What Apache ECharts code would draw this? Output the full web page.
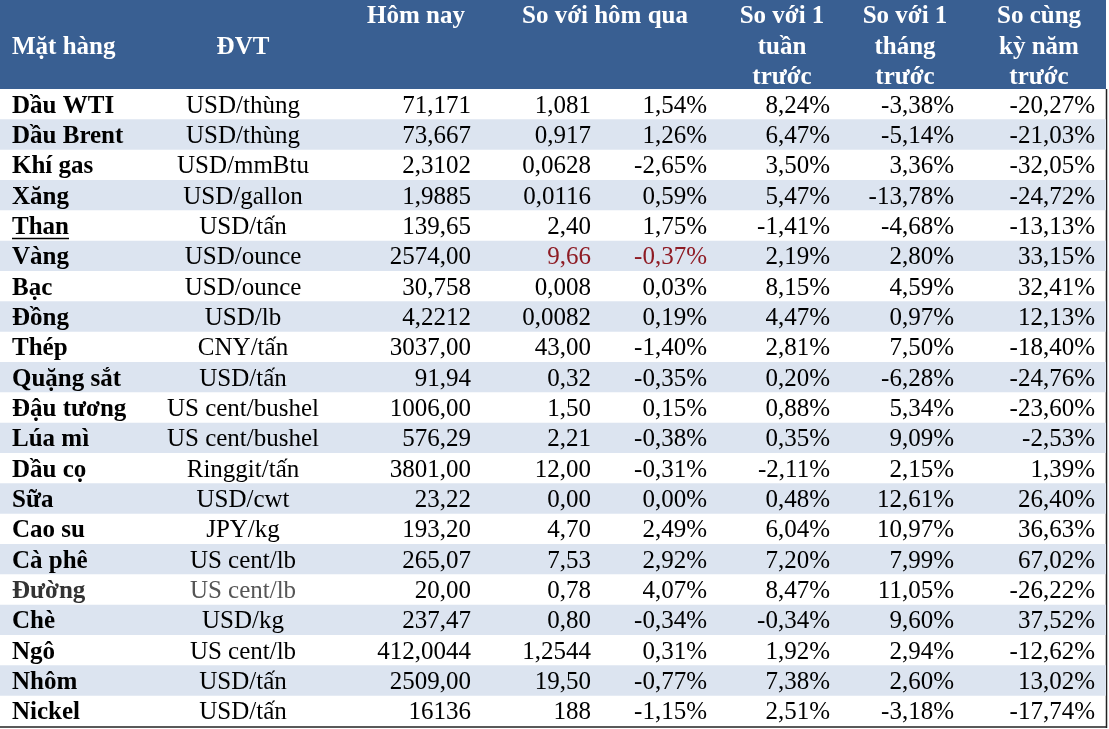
<!DOCTYPE html>
<html>
<head>
<meta charset="utf-8">
<script src="https://cdn.jsdelivr.net/npm/echarts@6/dist/echarts.min.js"></script>
<style>html,body{margin:0;padding:0;background:#fff}#c{width:1109px;height:729px}</style>
</head>
<body>
<div id="c"></div>
<script>
const names = ['Dầu WTI','Dầu Brent','Khí gas','Xăng','Than','Vàng','Bạc','Đồng','Thép','Quặng sắt','Đậu tương','Lúa mì','Dầu cọ','Sữa','Cao su','Cà phê','Đường','Chè','Ngô','Nhôm','Nickel'];
const units = ['USD/thùng','USD/thùng','USD/mmBtu','USD/gallon','USD/tấn','USD/ounce','USD/ounce','USD/lb','CNY/tấn','USD/tấn','US cent/bushel','US cent/bushel','Ringgit/tấn','USD/cwt','JPY/kg','US cent/lb','US cent/lb','USD/kg','US cent/lb','USD/tấn','USD/tấn'];
const today = ['71,171','73,667','2,3102','1,9885','139,65','2574,00','30,758','4,2212','3037,00','91,94','1006,00','576,29','3801,00','23,22','193,20','265,07','20,00','237,47','412,0044','2509,00','16136'];
const chgDay = ['1,081','0,917','0,0628','0,0116','2,40','9,66','0,008','0,0082','43,00','0,32','1,50','2,21','12,00','0,00','4,70','7,53','0,78','0,80','1,2544','19,50','188'];
const pctDay = [1.54,1.26,-2.65,0.59,1.75,-0.37,0.03,0.19,-1.40,-0.35,0.15,-0.38,-0.31,0.00,2.49,2.92,4.07,-0.34,0.31,-0.77,-1.15];
const pctWeek = [8.24,6.47,3.50,5.47,-1.41,2.19,8.15,4.47,2.81,0.20,0.88,0.35,-2.11,0.48,6.04,7.20,8.47,-0.34,1.92,7.38,2.51];
const pctMonth = [-3.38,-5.14,3.36,-13.78,-4.68,2.80,4.59,0.97,7.50,-6.28,5.34,9.09,2.15,12.61,10.97,7.99,11.05,9.60,2.94,2.60,-3.18];
const pctYear = [-20.27,-21.03,-32.05,-24.72,-13.13,33.15,32.41,12.13,-18.40,-24.76,-23.60,-2.53,1.39,26.40,36.63,67.02,-26.22,37.52,-12.62,13.02,-17.74];
const headers = [
  {lines:['Mặt hàng'], x:12, align:'left'},
  {lines:['ĐVT'], x:243, align:'center'},
  {lines:['Hôm nay'], x:416, align:'center', top:true},
  {lines:['So với hôm qua'], x:605, align:'center', top:true},
  {lines:['So với 1','tuần','trước'], x:782, align:'center', top:true},
  {lines:['So với 1','tháng','trước'], x:905, align:'center', top:true},
  {lines:['So cùng','kỳ năm','trước'], x:1039, align:'center', top:true}
];

const fmtPct = v => v.toFixed(2).replace('.', ',') + '%';
const SERIF = '"Liberation Serif","Times New Roman",serif';
const FONT_B = 'bold 25px ' + SERIF;
const FONT_R = '25px ' + SERIF;
const HEADER_BG = '#395F92';
const ROW_BG = '#DCE4F0';
const RED = '#8E1B24';

// header graphics
const headerEls = [{type:'rect', shape:{x:0,y:0,width:1106,height:89}, style:{fill:HEADER_BG}, silent:true}];
headers.forEach(h => {
  h.lines.forEach((t, k) => {
    const cy = h.top ? 17 + k * 30.5 : 48;
    headerEls.push({type:'text', x:h.x, y:cy, style:{text:t, font:FONT_B, fill:'#ffffff', align:h.align, verticalAlign:'middle'}, silent:true});
  });
});
headerEls.push({type:'line', shape:{x1:1106.5,y1:89,x2:1106.5,y2:728}, style:{stroke:'#222',lineWidth:1.5}, silent:true});
headerEls.push({type:'line', shape:{x1:0,y1:727,x2:1107,y2:727}, style:{stroke:'#222',lineWidth:1.5}, silent:true});

const data = names.map((n, i) => [0, i]);

const chart = echarts.init(document.getElementById('c'), null, {renderer:'canvas'});
chart.setOption({
  animation:false,
  grid:{left:0, right:0, top:89, height:637},
  xAxis:{type:'value', min:0, max:1109, show:false},
  yAxis:{type:'category', data:names, inverse:true, show:false},
  series:[{
    type:'custom',
    data:data,
    encode:{x:0, y:1},
    renderItem:function(params, api){
      const i = api.value(1);
      const c = api.coord([0, i]);
      const cy = c[1];
      const h = api.size([0, 1])[1];
      const X = v => api.coord([v, i])[0];
      const ch = [];
      if (i % 2 === 1) {
        ch.push({type:'rect', shape:{x:X(0), y:cy - h/2, width:X(1106) - X(0), height:h}, style:{fill:ROW_BG}});
      }
      const isSugar = names[i] === 'Đường';
      const isGold = names[i] === 'Vàng';
      const txt = (x, t, align, font, fill) => ch.push({type:'text', x:x, y:cy + 2, style:{text:t, font:font, fill:fill, align:align, verticalAlign:'middle'}});
      txt(X(12), names[i], 'left', FONT_B, isSugar ? '#333333' : '#000000');
      if (names[i] === 'Than') {
        ch.push({type:'line', shape:{x1:X(12), y1:cy + 13, x2:X(69), y2:cy + 13}, style:{stroke:'#000', lineWidth:1.5}});
      }
      txt(X(243), units[i], 'center', FONT_R, isSugar ? '#555555' : '#000000');
      txt(X(471), today[i], 'right', FONT_R, '#000000');
      txt(X(591), chgDay[i], 'right', FONT_R, isGold ? RED : '#000000');
      txt(X(707), fmtPct(pctDay[i]), 'right', FONT_R, isGold ? RED : '#000000');
      txt(X(830), fmtPct(pctWeek[i]), 'right', FONT_R, '#000000');
      txt(X(954), fmtPct(pctMonth[i]), 'right', FONT_R, '#000000');
      txt(X(1095), fmtPct(pctYear[i]), 'right', FONT_R, '#000000');
      return {type:'group', children:ch};
    }
  }],
  graphic:headerEls
});
</script>
</body>
</html>
